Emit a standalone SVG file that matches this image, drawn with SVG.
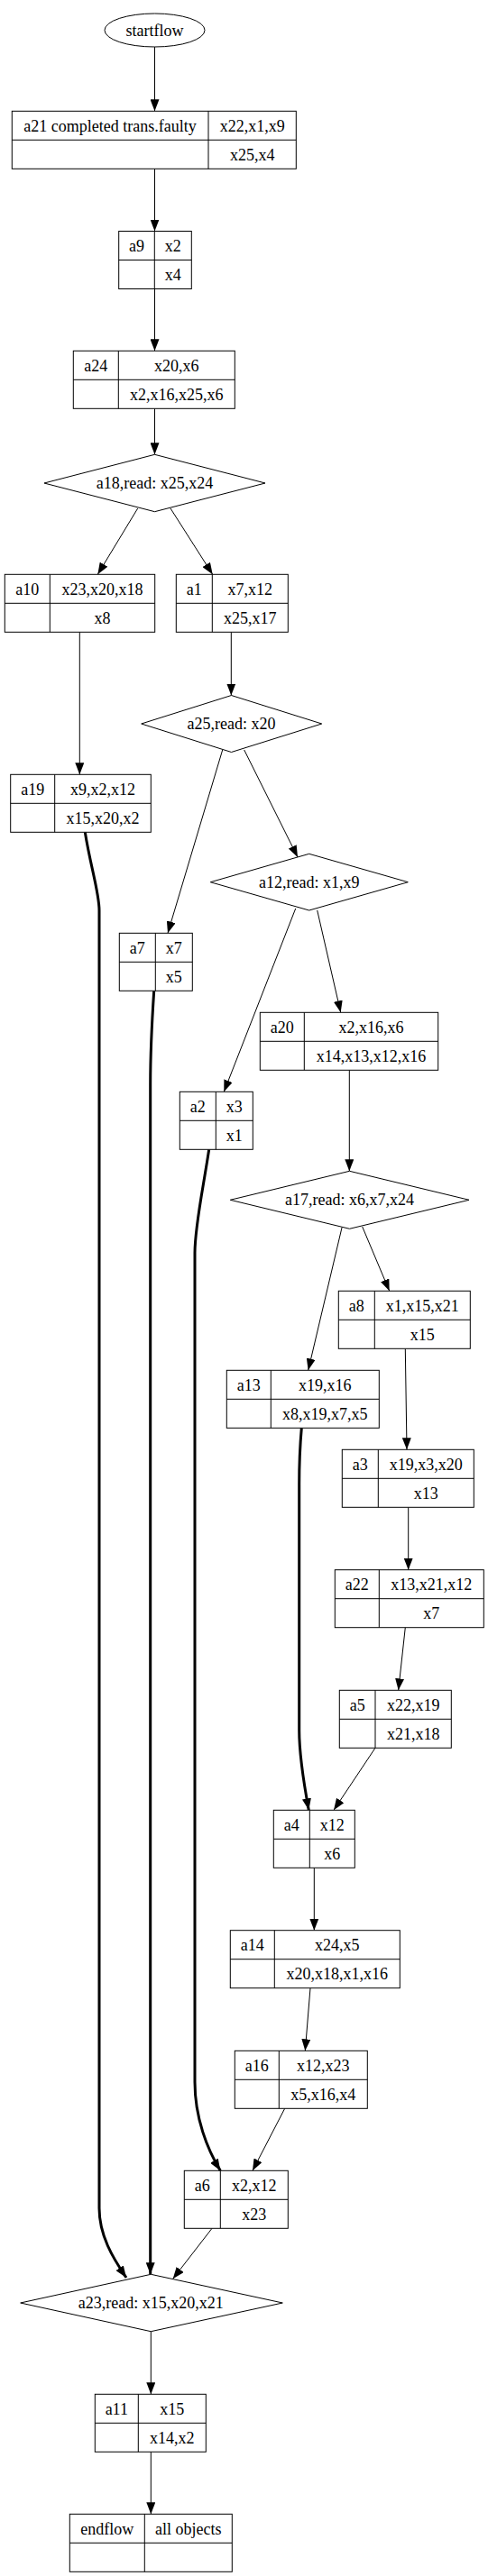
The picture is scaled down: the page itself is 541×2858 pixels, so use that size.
<svg xmlns="http://www.w3.org/2000/svg" width="541" height="2858" viewBox="0 0 541 2858">
<style>
.s{fill:#fff;stroke:#000;stroke-width:1}
.l{stroke:#000;stroke-width:1}
.t{font-family:"Liberation Serif","Times New Roman",serif;font-size:18px;fill:#000;text-anchor:middle}
.e{fill:none;stroke:#000;stroke-width:1}
.k{fill:none;stroke:#000;stroke-width:3}
</style>
<defs>
<marker id="ah" markerUnits="userSpaceOnUse" markerWidth="13" markerHeight="10" refX="13" refY="5" orient="auto">
<path d="M0,0 L13,5 L0,10 z" fill="#000"/>
</marker>
</defs>
<rect width="541" height="2858" fill="#fff"/>
<g id="edges">
<path class="e" marker-end="url(#ah)" d="M171.5,52 L171.5,123.3"/>
<path class="e" marker-end="url(#ah)" d="M171.5,187.3 L171.5,256.5"/>
<path class="e" marker-end="url(#ah)" d="M171.5,320.5 L171.5,389.3"/>
<path class="e" marker-end="url(#ah)" d="M171.5,453.3 L171.5,504.3"/>
<path class="e" marker-end="url(#ah)" d="M152.7,564 L108.3,637.3"/>
<path class="e" marker-end="url(#ah)" d="M189,564 L235.7,637.3"/>
<path class="e" marker-end="url(#ah)" d="M88.3,701.3 L88.3,859.3"/>
<path class="e" marker-end="url(#ah)" d="M256.3,701.3 L256.3,771.5"/>
<path class="e" marker-end="url(#ah)" d="M246.7,832 L186,1035.3"/>
<path class="e" marker-end="url(#ah)" d="M270.7,832 L330,951"/>
<path class="e" marker-end="url(#ah)" d="M327.7,1008 L248.3,1211.3"/>
<path class="e" marker-end="url(#ah)" d="M351.7,1010 L377.7,1123.3"/>
<path class="e" marker-end="url(#ah)" d="M387.3,1187.3 L387.3,1299.3"/>
<path class="e" marker-end="url(#ah)" d="M379,1362 L341.7,1520.3"/>
<path class="e" marker-end="url(#ah)" d="M401.7,1361 L431.7,1432.3"/>
<path class="e" marker-end="url(#ah)" d="M449.3,1496.3 L451,1608.3"/>
<path class="e" marker-end="url(#ah)" d="M452.7,1672.3 L452.7,1741.7"/>
<path class="e" marker-end="url(#ah)" d="M449.3,1805.7 L441.7,1875.3"/>
<path class="e" marker-end="url(#ah)" d="M416,1939.3 L370,2008.3"/>
<path class="e" marker-end="url(#ah)" d="M348.3,2072.3 L348.3,2141.7"/>
<path class="e" marker-end="url(#ah)" d="M344,2205.7 L338.3,2275.3"/>
<path class="e" marker-end="url(#ah)" d="M315.7,2339.3 L280,2408.3"/>
<path class="e" marker-end="url(#ah)" d="M235,2472.3 L191.7,2528.3"/>
<path class="e" marker-end="url(#ah)" d="M167.3,2586.7 L167.3,2656.3"/>
<path class="e" marker-end="url(#ah)" d="M167.3,2720.3 L167.3,2789.3"/>
<path class="k" marker-end="url(#ah)" d="M94.3,923.3 C100,960 110,990 110,1010 L110,2450 C110,2480 125,2505 140,2527"/>
<path class="k" marker-end="url(#ah)" d="M170.7,1099.3 C168,1140 166.7,1180 166.7,1203 L166.7,2523.3"/>
<path class="k" marker-end="url(#ah)" d="M231.7,1275.3 C225,1320 216,1360 216,1390 L216,2310 C216,2350 230,2385 244.3,2408.3"/>
<path class="k" marker-end="url(#ah)" d="M334.3,1584.3 C332,1610 331.7,1630 331.7,1647 L331.7,1920 C331.7,1950 338,1985 342.3,2008.3"/>
</g>
<g id="startflow">
<ellipse class="s" cx="171.5" cy="33.5" rx="55.5" ry="18.5"/>
<text class="t" x="171.5" y="39.5">startflow</text>
</g>
<g id="a21">
<rect class="s" x="13.3" y="123.3" width="315" height="64"/>
<line class="l" x1="231" y1="123.3" x2="231" y2="187.3"/>
<line class="l" x1="13.3" y1="155.3" x2="328.3" y2="155.3"/>
<text class="t" x="122" y="145.5">a21 completed trans.faulty</text>
<text class="t" x="279.7" y="145.5">x22,x1,x9</text>
<text class="t" x="279.7" y="177.5">x25,x4</text>
</g>
<g id="a9">
<rect class="s" x="131.7" y="256.5" width="80.6" height="64"/>
<line class="l" x1="171.3" y1="256.5" x2="171.3" y2="320.5"/>
<line class="l" x1="131.7" y1="288.5" x2="212.3" y2="288.5"/>
<text class="t" x="151.5" y="278.5">a9</text>
<text class="t" x="191.8" y="278.5">x2</text>
<text class="t" x="191.8" y="310.5">x4</text>
</g>
<g id="a24">
<rect class="s" x="81.3" y="389.3" width="179" height="64"/>
<line class="l" x1="131.3" y1="389.3" x2="131.3" y2="453.3"/>
<line class="l" x1="81.3" y1="421.3" x2="260.3" y2="421.3"/>
<text class="t" x="106.3" y="411.5">a24</text>
<text class="t" x="195.8" y="411.5">x20,x6</text>
<text class="t" x="195.8" y="443.5">x2,x16,x25,x6</text>
</g>
<g id="a18">
<polygon class="s" points="171.5,504.3 294,536 171.5,567.7 49,536"/>
<text class="t" x="171.5" y="542">a18,read: x25,x24</text>
</g>
<g id="a10">
<rect class="s" x="5.3" y="637.3" width="166.4" height="64"/>
<line class="l" x1="55.3" y1="637.3" x2="55.3" y2="701.3"/>
<line class="l" x1="5.3" y1="669.3" x2="171.7" y2="669.3"/>
<text class="t" x="30.3" y="659.5">a10</text>
<text class="t" x="113.5" y="659.5">x23,x20,x18</text>
<text class="t" x="113.5" y="691.5">x8</text>
</g>
<g id="a1">
<rect class="s" x="195.3" y="637.3" width="124" height="64"/>
<line class="l" x1="235.3" y1="637.3" x2="235.3" y2="701.3"/>
<line class="l" x1="195.3" y1="669.3" x2="319.3" y2="669.3"/>
<text class="t" x="215.3" y="659.5">a1</text>
<text class="t" x="277.3" y="659.5">x7,x12</text>
<text class="t" x="277.3" y="691.5">x25,x17</text>
</g>
<g id="a25">
<polygon class="s" points="256.5,771.5 356.7,803 256.5,834.5 156.7,803"/>
<text class="t" x="256.5" y="809">a25,read: x20</text>
</g>
<g id="a19">
<rect class="s" x="11.7" y="859.3" width="155.6" height="64"/>
<line class="l" x1="60.7" y1="859.3" x2="60.7" y2="923.3"/>
<line class="l" x1="11.7" y1="891.3" x2="167.3" y2="891.3"/>
<text class="t" x="36.2" y="881.5">a19</text>
<text class="t" x="114" y="881.5">x9,x2,x12</text>
<text class="t" x="114" y="913.5">x15,x20,x2</text>
</g>
<g id="a12">
<polygon class="s" points="342.7,947.3 452.3,978.7 342.7,1010 233.3,978.7"/>
<text class="t" x="342.7" y="984.7">a12,read: x1,x9</text>
</g>
<g id="a7">
<rect class="s" x="132.3" y="1035.3" width="81" height="64"/>
<line class="l" x1="172.3" y1="1035.3" x2="172.3" y2="1099.3"/>
<line class="l" x1="132.3" y1="1067.3" x2="213.3" y2="1067.3"/>
<text class="t" x="152.3" y="1057.5">a7</text>
<text class="t" x="192.8" y="1057.5">x7</text>
<text class="t" x="192.8" y="1089.5">x5</text>
</g>
<g id="a20">
<rect class="s" x="288.3" y="1123.3" width="197.4" height="64"/>
<line class="l" x1="337.3" y1="1123.3" x2="337.3" y2="1187.3"/>
<line class="l" x1="288.3" y1="1155.3" x2="485.7" y2="1155.3"/>
<text class="t" x="312.8" y="1145.5">a20</text>
<text class="t" x="411.5" y="1145.5">x2,x16,x6</text>
<text class="t" x="411.5" y="1177.5">x14,x13,x12,x16</text>
</g>
<g id="a2">
<rect class="s" x="199.3" y="1211.3" width="81" height="64"/>
<line class="l" x1="239.3" y1="1211.3" x2="239.3" y2="1275.3"/>
<line class="l" x1="199.3" y1="1243.3" x2="280.3" y2="1243.3"/>
<text class="t" x="219.3" y="1233.5">a2</text>
<text class="t" x="259.8" y="1233.5">x3</text>
<text class="t" x="259.8" y="1265.5">x1</text>
</g>
<g id="a17">
<polygon class="s" points="387.5,1299.3 520,1331.3 387.5,1363.3 255.3,1331.3"/>
<text class="t" x="387.5" y="1337.3">a17,read: x6,x7,x24</text>
</g>
<g id="a8">
<rect class="s" x="375.3" y="1432.3" width="146" height="64"/>
<line class="l" x1="415.3" y1="1432.3" x2="415.3" y2="1496.3"/>
<line class="l" x1="375.3" y1="1464.3" x2="521.3" y2="1464.3"/>
<text class="t" x="395.3" y="1454.5">a8</text>
<text class="t" x="468.3" y="1454.5">x1,x15,x21</text>
<text class="t" x="468.3" y="1486.5">x15</text>
</g>
<g id="a13">
<rect class="s" x="251.3" y="1520.3" width="169" height="64"/>
<line class="l" x1="300.3" y1="1520.3" x2="300.3" y2="1584.3"/>
<line class="l" x1="251.3" y1="1552.3" x2="420.3" y2="1552.3"/>
<text class="t" x="275.8" y="1542.5">a13</text>
<text class="t" x="360.3" y="1542.5">x19,x16</text>
<text class="t" x="360.3" y="1574.5">x8,x19,x7,x5</text>
</g>
<g id="a3">
<rect class="s" x="379.3" y="1608.3" width="146" height="64"/>
<line class="l" x1="419.3" y1="1608.3" x2="419.3" y2="1672.3"/>
<line class="l" x1="379.3" y1="1640.3" x2="525.3" y2="1640.3"/>
<text class="t" x="399.3" y="1630.5">a3</text>
<text class="t" x="472.3" y="1630.5">x19,x3,x20</text>
<text class="t" x="472.3" y="1662.5">x13</text>
</g>
<g id="a22">
<rect class="s" x="371.3" y="1741.7" width="165" height="64"/>
<line class="l" x1="420.3" y1="1741.7" x2="420.3" y2="1805.7"/>
<line class="l" x1="371.3" y1="1773.7" x2="536.3" y2="1773.7"/>
<text class="t" x="395.8" y="1763.9">a22</text>
<text class="t" x="478.3" y="1763.9">x13,x21,x12</text>
<text class="t" x="478.3" y="1795.9">x7</text>
</g>
<g id="a5">
<rect class="s" x="376.3" y="1875.3" width="124" height="64"/>
<line class="l" x1="416" y1="1875.3" x2="416" y2="1939.3"/>
<line class="l" x1="376.3" y1="1907.3" x2="500.3" y2="1907.3"/>
<text class="t" x="396.2" y="1897.5">a5</text>
<text class="t" x="458.2" y="1897.5">x22,x19</text>
<text class="t" x="458.2" y="1929.5">x21,x18</text>
</g>
<g id="a4">
<rect class="s" x="303.3" y="2008.3" width="90" height="64"/>
<line class="l" x1="343.3" y1="2008.3" x2="343.3" y2="2072.3"/>
<line class="l" x1="303.3" y1="2040.3" x2="393.3" y2="2040.3"/>
<text class="t" x="323.3" y="2030.5">a4</text>
<text class="t" x="368.3" y="2030.5">x12</text>
<text class="t" x="368.3" y="2062.5">x6</text>
</g>
<g id="a14">
<rect class="s" x="255.3" y="2141.7" width="188" height="64"/>
<line class="l" x1="304.3" y1="2141.7" x2="304.3" y2="2205.7"/>
<line class="l" x1="255.3" y1="2173.7" x2="443.3" y2="2173.7"/>
<text class="t" x="279.8" y="2163.9">a14</text>
<text class="t" x="373.8" y="2163.9">x24,x5</text>
<text class="t" x="373.8" y="2195.9">x20,x18,x1,x16</text>
</g>
<g id="a16">
<rect class="s" x="260.3" y="2275.3" width="147" height="64"/>
<line class="l" x1="309.3" y1="2275.3" x2="309.3" y2="2339.3"/>
<line class="l" x1="260.3" y1="2307.3" x2="407.3" y2="2307.3"/>
<text class="t" x="284.8" y="2297.5">a16</text>
<text class="t" x="358.3" y="2297.5">x12,x23</text>
<text class="t" x="358.3" y="2329.5">x5,x16,x4</text>
</g>
<g id="a6">
<rect class="s" x="204.3" y="2408.3" width="115" height="64"/>
<line class="l" x1="244.3" y1="2408.3" x2="244.3" y2="2472.3"/>
<line class="l" x1="204.3" y1="2440.3" x2="319.3" y2="2440.3"/>
<text class="t" x="224.3" y="2430.5">a6</text>
<text class="t" x="281.8" y="2430.5">x2,x12</text>
<text class="t" x="281.8" y="2462.5">x23</text>
</g>
<g id="a23">
<polygon class="s" points="167.3,2523.3 313.3,2555 167.3,2586.7 22.7,2555"/>
<text class="t" x="167.3" y="2561">a23,read: x15,x20,x21</text>
</g>
<g id="a11">
<rect class="s" x="105.3" y="2656.3" width="123" height="64"/>
<line class="l" x1="153.3" y1="2656.3" x2="153.3" y2="2720.3"/>
<line class="l" x1="105.3" y1="2688.3" x2="228.3" y2="2688.3"/>
<text class="t" x="129.3" y="2678.5">a11</text>
<text class="t" x="190.8" y="2678.5">x15</text>
<text class="t" x="190.8" y="2710.5">x14,x2</text>
</g>
<g id="endflow">
<rect class="s" x="77.3" y="2789.3" width="180" height="64"/>
<line class="l" x1="160.3" y1="2789.3" x2="160.3" y2="2853.3"/>
<line class="l" x1="77.3" y1="2821.3" x2="257.3" y2="2821.3"/>
<text class="t" x="118.8" y="2811.5">endflow</text>
<text class="t" x="208.8" y="2811.5">all objects</text>
</g>
</svg>
